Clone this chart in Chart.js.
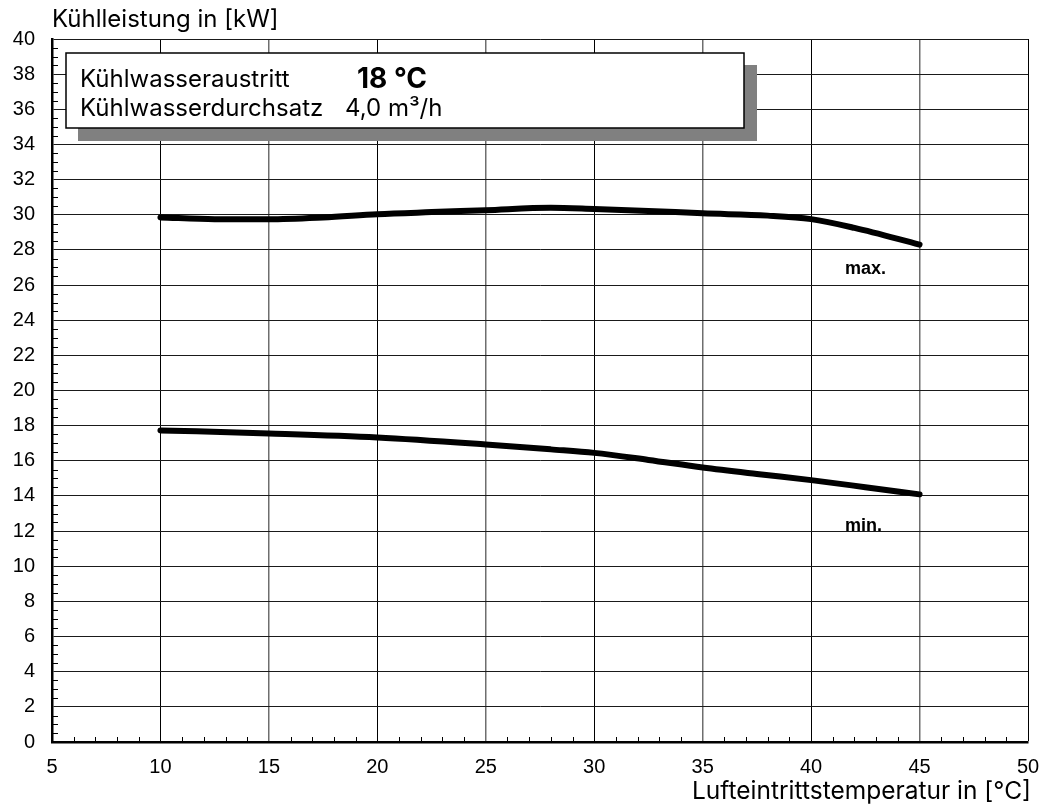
<!DOCTYPE html>
<html>
    <head>
        <meta charset="UTF-8">
        <title>Kühlleistung</title>
        <script src="https://cdn.jsdelivr.net/npm/chart.js@4"></script>
        <style>
            body { margin: 0; background: #fff; }
            #container { width: 1043px; height: 805px; }
        </style>
        <script type="text/javascript">
            // Lufteintrittstemperatur [°C] -> Kühlleistung [kW]
            var maxTemp = [10, 12.5, 15, 17.5, 20, 22.5, 25, 28, 30, 32.5, 35, 38, 40, 42, 45];
            var maxPower = [29.85, 29.75, 29.75, 29.85, 30.03, 30.15, 30.26, 30.4, 30.33, 30.22, 30.08, 29.95, 29.75, 29.25, 28.3];
            var minTemp = [10, 15, 20, 25, 28, 30, 32.5, 35, 37.5, 40, 42.5, 45];
            var minPower = [17.73, 17.56, 17.33, 16.93, 16.65, 16.45, 16.05, 15.62, 15.25, 14.9, 14.5, 14.09];
            var xRange = [5, 50];
            var yRange = [0, 40];

            function toPoints(xs, ys) {
                var pts = [];
                for (var i = 0; i < xs.length; i++) {
                    pts.push({x: xs[i], y: ys[i]});
                }
                return pts;
            }

            // minor ticks, frame box and free texts
            var decorations = {
                id: 'decorations',
                beforeDatasetsDraw: function (chart) {
                    var ctx = chart.ctx;
                    var xs = chart.scales.x;
                    var ys = chart.scales.y;
                    var area = chart.chartArea;
                    ctx.save();
                    ctx.strokeStyle = '#000';
                    ctx.lineWidth = 1;
                    ctx.beginPath();
                    for (var v = xRange[0] + 1; v < xRange[1]; v++) {
                        if (v % 5 === 0) continue;
                        var px = Math.round(xs.getPixelForValue(v)) + 0.5;
                        ctx.moveTo(px, area.bottom);
                        ctx.lineTo(px, area.bottom - 5);
                    }
                    for (var w = yRange[0] + 0.5; w < yRange[1]; w += 0.5) {
                        if (w % 2 === 0) continue;
                        var py = Math.round(ys.getPixelForValue(w)) + 0.5;
                        ctx.moveTo(area.left, py);
                        ctx.lineTo(area.left + 6, py);
                    }
                    ctx.stroke();

                    // info box with shadow
                    ctx.fillStyle = '#808080';
                    ctx.fillRect(78, 65, 679, 76);
                    ctx.fillStyle = '#fff';
                    ctx.fillRect(66, 53, 678, 75);
                    ctx.lineWidth = 1.5;
                    ctx.strokeStyle = '#000';
                    ctx.strokeRect(66, 53, 678, 75);

                    ctx.fillStyle = '#000';
                    ctx.textBaseline = 'alphabetic';
                    ctx.textAlign = 'left';
                    ctx.font = '24px Inter';
                    ctx.fillText('Kühlwasseraustritt', 80, 87);
                    ctx.fillText('Kühlwasserdurchsatz', 80, 116);
                    ctx.fillText('4,0 m³/h', 345, 116);
                    ctx.font = 'bold 28px Inter';
                    ctx.fillText('18 °C', 357, 88);

                    ctx.font = 'bold 18px "Liberation Sans"';
                    ctx.fillText('max.', 845, 274);
                    ctx.fillText('min.', 845, 531);

                    ctx.font = '24px Inter';
                    ctx.fillText('Kühlleistung in [kW]', 52, 27);
                    ctx.textAlign = 'right';
                    ctx.font = '24.5px Inter';
                    ctx.fillText('Lufteintrittstemperatur in [°C]', 1031, 799);
                    ctx.restore();
                }
            };

            window.onload = function () {
                var ctx = document.getElementById('chartCanvas').getContext('2d');
                window.coolingChart = new Chart(ctx, {
                    type: 'scatter',
                    data: {
                        datasets: [{
                                label: 'max.',
                                data: toPoints(maxTemp, maxPower),
                                showLine: true,
                                borderColor: '#000',
                                borderWidth: 6,
                                borderCapStyle: 'round',
                                borderJoinStyle: 'round',
                                cubicInterpolationMode: 'monotone',
                                pointRadius: 0,
                                fill: false
                            }, {
                                label: 'min.',
                                data: toPoints(minTemp, minPower),
                                showLine: true,
                                borderColor: '#000',
                                borderWidth: 6,
                                borderCapStyle: 'round',
                                borderJoinStyle: 'round',
                                cubicInterpolationMode: 'monotone',
                                pointRadius: 0,
                                fill: false
                            }]
                    },
                    options: {
                        responsive: false,
                        animation: false,
                        layout: {
                            padding: {left: 0, right: 15, top: 39, bottom: 0}
                        },
                        plugins: {
                            legend: {display: false},
                            tooltip: {enabled: false}
                        },
                        scales: {
                            x: {
                                type: 'linear',
                                min: xRange[0],
                                max: xRange[1],
                                afterFit: function (scale) {
                                    scale.height = 63;
                                    scale.paddingRight = 0;
                                    scale.paddingLeft = 0;
                                },
                                ticks: {
                                    stepSize: 5,
                                    padding: 13,
                                    color: '#000',
                                    font: {family: '"Liberation Sans"', size: 20}
                                },
                                grid: {
                                    drawTicks: false,
                                    lineWidth: function (c) { return c.tick && c.tick.value % 10 === 5 ? 1.5 : 1; },
                                    color: function (c) { return c.tick && c.tick.value % 10 === 5 ? '#6e6e6e' : '#000'; }
                                },
                                border: {color: '#000', width: 2.5}
                            },
                            y: {
                                min: yRange[0],
                                max: yRange[1],
                                afterFit: function (scale) {
                                    scale.width = 52;
                                    scale.paddingTop = 0;
                                    scale.paddingBottom = 0;
                                },
                                ticks: {
                                    stepSize: 2,
                                    padding: 17,
                                    color: '#000',
                                    font: {family: '"Liberation Sans"', size: 20}
                                },
                                grid: {
                                    drawTicks: false,
                                    color: '#1a1a1a',
                                    lineWidth: 1
                                },
                                border: {color: '#000', width: 2.5}
                            }
                        }
                    },
                    plugins: [decorations]
                });
            };
        </script>
    </head>
    <body>
        <div id="container">
            <canvas id="chartCanvas" width="1043" height="805"></canvas>
        </div>
    </body>
</html>
